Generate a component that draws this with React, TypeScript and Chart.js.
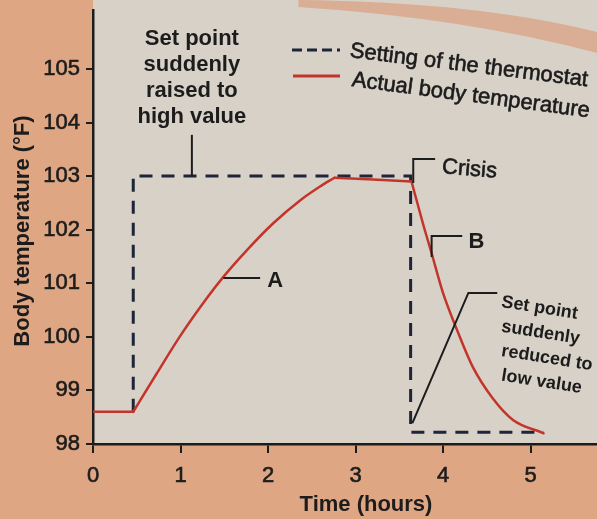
import React, { useEffect, useRef } from "react";
import { Chart, registerables } from "chart.js";

Chart.register(...registerables);

// ---- data ----
const setpointTime = [0.46, 0.46, 3.63, 3.63, 5.15];
const setpointTemp = [98.6, 103, 103, 98.22, 98.22];

const bodyTime = [0, 0.46, 0.73, 0.99, 1.3, 1.49, 1.76, 2.06, 2.37, 2.59, 2.76, 3.64, 3.77, 3.87, 4.0, 4.16, 4.34, 4.57, 4.8, 5.15];
const bodyTemp = [98.6, 98.6, 99.32, 100.0, 100.72, 101.12, 101.62, 102.12, 102.55, 102.8, 102.97, 102.9, 102.12, 101.56, 100.82, 100.13, 99.44, 98.85, 98.45, 98.2];
// indices where the body-temperature curve has a sharp corner
const bodyCorners = [1, 10, 11];

const xTickValues = [0, 1, 2, 3, 4, 5];
const yTickValues = [98, 99, 100, 101, 102, 103, 104, 105];

const seriesNames = ["Setting of the thermostat", "Actual body temperature"];
const xTitle = "Time (hours)";
const yTitle = "Body temperature (°F)";
const raisedText = ["Set point", "suddenly", "raised to", "high value"];
const reducedText = ["Set point", "suddenly", "reduced to", "low value"];

// ---- styles ----
const FONT = '"Liberation Sans", Arial, Helvetica, sans-serif';
const INK = "#1c1c1c";
const DASH_COLOR = "#1e2538";
const RED = "#c3352b";
const PEACH = "#dfa684";
const PAPER = "#d8d1c8";

function txt(ctx: CanvasRenderingContext2D, s: string, x: number, y: number, opts: any = {}) {
  const { size = 22, bold = false, align = "left", rot = 0, medium = false } = opts;
  ctx.save();
  ctx.translate(x, y);
  ctx.rotate((rot * Math.PI) / 180);
  ctx.font = `${bold ? "bold " : ""}${size}px ${FONT}`;
  ctx.textAlign = align;
  ctx.textBaseline = "middle";
  ctx.fillStyle = INK;
  ctx.fillText(s, 0, 0);
  if (medium) {
    ctx.strokeStyle = INK;
    ctx.lineWidth = 0.6;
    ctx.strokeText(s, 0, 0);
  }
  ctx.restore();
}

const backgroundPlugin = {
  id: "bg",
  beforeDraw(chart: any) {
    const { ctx, width, height, chartArea } = chart;
    ctx.save();
    ctx.fillStyle = PEACH;
    ctx.fillRect(0, 0, width, height);
    ctx.fillStyle = PAPER;
    ctx.fillRect(chartArea.left, 0, width - chartArea.left, chartArea.bottom);
    // page-edge band across the top right of the photographed page
    ctx.fillStyle = "#d9ae94";
    ctx.beginPath();
    ctx.moveTo(width * 0.5, 0);
    ctx.quadraticCurveTo(width * 0.8, 2, width, 32);
    ctx.lineTo(width, 53);
    ctx.quadraticCurveTo(width * 0.78, 18, width * 0.5, 7);
    ctx.closePath();
    ctx.fill();
    ctx.restore();
  },
};

const annotationPlugin = {
  id: "notes",
  afterDraw(chart: any) {
    const ctx: CanvasRenderingContext2D = chart.ctx;
    const xs = chart.scales.x;
    const ys = chart.scales.y;
    const X = (v: number) => xs.getPixelForValue(v);
    const Y = (v: number) => ys.getPixelForValue(v);
    const ca = chart.chartArea;

    ctx.save();
    ctx.strokeStyle = INK;
    ctx.lineWidth = 2;
    const poly = (pts: number[][]) => {
      ctx.beginPath();
      pts.forEach(([a, b], i) => (i ? ctx.lineTo(X(a), Y(b)) : ctx.moveTo(X(a), Y(b))));
      ctx.stroke();
    };
    poly([[1.13, 103.77], [1.13, 103.0]]);
    poly([[1.49, 101.1], [1.91, 101.1]]);
    poly([[3.66, 102.87], [3.66, 103.32], [3.91, 103.32]]);
    poly([[3.87, 101.49], [3.87, 101.88], [4.22, 101.88]]);
    poly([[3.65, 98.39], [4.29, 100.82], [4.62, 100.82]]);
    ctx.restore();

    raisedText.forEach((s, i) => txt(ctx, s, X(1.13), Y(105.56) + i * 26, { bold: true, align: "center" }));
    reducedText.forEach((s, i) => txt(ctx, s, X(4.67), Y(100.65) + i * 24.5, { bold: true, size: 18, rot: 9 }));
    txt(ctx, "A", X(1.99), Y(101.05), { bold: true });
    txt(ctx, "B", X(4.29), Y(101.77), { bold: true });
    txt(ctx, "Crisis", X(3.99), Y(103.17), { medium: true, rot: 5 });

    // legend
    const lx = ca.left + 199;
    const ly = ca.top + 40;
    ctx.save();
    ctx.strokeStyle = DASH_COLOR;
    ctx.lineWidth = 3;
    ctx.setLineDash([10, 5]);
    ctx.beginPath();
    ctx.moveTo(lx, ly);
    ctx.lineTo(lx + 48, ly);
    ctx.stroke();
    ctx.setLineDash([]);
    ctx.strokeStyle = RED;
    ctx.lineWidth = 3;
    ctx.beginPath();
    ctx.moveTo(lx + 1, ly + 26);
    ctx.lineTo(lx + 48, ly + 26);
    ctx.stroke();
    ctx.restore();
    txt(ctx, seriesNames[0], lx + 58, ly + 1, { medium: true, rot: 7 });
    txt(ctx, seriesNames[1], lx + 60, ly + 30, { medium: true, rot: 7.5 });

    // axis titles
    ctx.save();
    ctx.translate(23, (ca.top + ca.bottom) / 2 + 4);
    ctx.rotate(-Math.PI / 2);
    ctx.font = `bold 22px ${FONT}`;
    ctx.textAlign = "center";
    ctx.textBaseline = "middle";
    ctx.fillStyle = INK;
    ctx.fillText(yTitle, 0, 0);
    ctx.restore();
    txt(ctx, xTitle, X(3.12), ca.bottom + 61, { bold: true, align: "center" });
  },
};

function bodySegments() {
  const cuts = [0, ...bodyCorners, bodyTime.length - 1];
  const segs: { x: number; y: number }[][] = [];
  for (let k = 0; k < cuts.length - 1; k++) {
    const seg: { x: number; y: number }[] = [];
    for (let i = cuts[k]; i <= cuts[k + 1]; i++) seg.push({ x: bodyTime[i], y: bodyTemp[i] });
    segs.push(seg);
  }
  return segs;
}

export default function App() {
  const ref = useRef<HTMLCanvasElement>(null);

  useEffect(() => {
    if (!ref.current) return;
    const zeroPad = (s: any) => {
      s.paddingLeft = 0;
      s.paddingRight = 0;
      s.paddingTop = 0;
      s.paddingBottom = 0;
    };
    const redSets = bodySegments().map((seg, i) => ({
      label: i === 0 ? seriesNames[1] : "",
      data: seg,
      borderColor: RED,
      borderWidth: 2.5,
      borderCapStyle: "round",
      pointRadius: 0,
      cubicInterpolationMode: "monotone",
      fill: false,
      order: 0,
    }));
    const chart = new Chart(ref.current, {
      type: "line",
      data: {
        datasets: [
          ...redSets,
          {
            label: seriesNames[0],
            data: setpointTime.map((t, i) => ({ x: t, y: setpointTemp[i] })),
            borderColor: DASH_COLOR,
            borderWidth: 3,
            borderDash: [13, 9],
            borderCapStyle: "butt",
            pointRadius: 0,
            tension: 0,
            fill: false,
            order: 1,
          },
        ],
      },
      options: {
        responsive: false,
        animation: false,
        layout: { padding: { top: 10, left: 0, right: 0, bottom: 0 } },
        plugins: { legend: { display: false }, tooltip: { enabled: false }, title: { display: false } },
        scales: {
          x: {
            type: "linear",
            min: 0,
            max: 5.76,
            afterBuildTicks: (s: any) => {
              s.ticks = xTickValues.map((v) => ({ value: v }));
            },
            afterFit: (s: any) => {
              s.height = 75;
              zeroPad(s);
            },
            ticks: {
              font: { family: FONT, size: 22 },
              color: INK,
              textStrokeColor: INK,
              textStrokeWidth: 0.6,
              padding: 10,
              maxRotation: 0,
              autoSkip: false,
            },
            grid: { drawOnChartArea: false, drawTicks: true, tickLength: 9, color: INK, lineWidth: 2 },
            border: { display: true, color: INK, width: 2.5 },
          },
          y: {
            type: "linear",
            min: 98,
            max: 106.1,
            afterBuildTicks: (s: any) => {
              s.ticks = yTickValues.map((v) => ({ value: v }));
            },
            afterFit: (s: any) => {
              s.width = 93;
              zeroPad(s);
            },
            ticks: {
              font: { family: FONT, size: 22 },
              color: INK,
              textStrokeColor: INK,
              textStrokeWidth: 0.6,
              padding: 6,
              autoSkip: false,
            },
            grid: { drawOnChartArea: false, drawTicks: true, tickLength: 7, color: INK, lineWidth: 2 },
            border: { display: true, color: INK, width: 2.5 },
          },
        },
      },
      plugins: [backgroundPlugin, annotationPlugin],
    } as any);
    return () => chart.destroy();
  }, []);

  return (
    <div style={{ position: "fixed", left: 0, top: 0, width: 597, height: 519 }}>
      <canvas ref={ref} width={597} height={519} style={{ display: "block" }} />
    </div>
  );
}
